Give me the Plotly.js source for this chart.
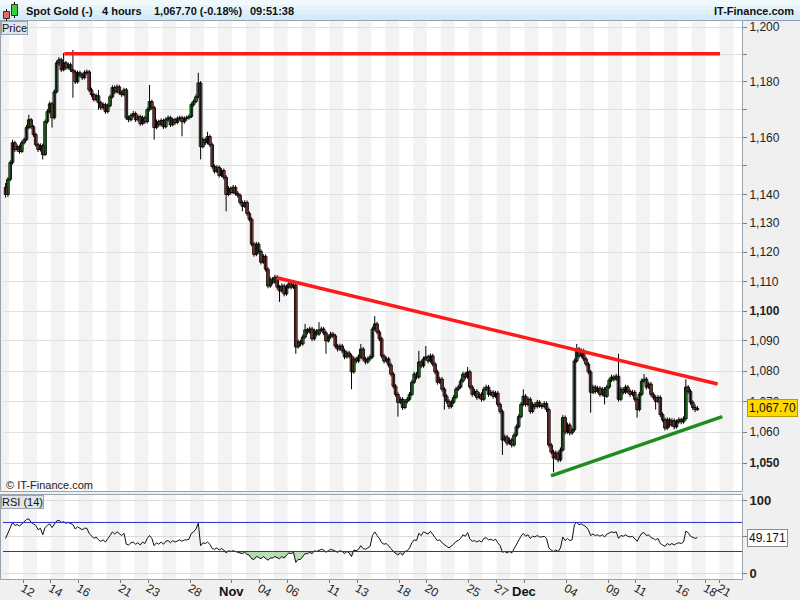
<!DOCTYPE html>
<html><head><meta charset="utf-8">
<script src="https://cdn.plot.ly/plotly-3.0.1.min.js"></script>
<style>html,body{margin:0;padding:0;background:#fff}#chart{width:800px;height:600px}</style>
</head><body><div id="chart"></div>
<script>
// ---- data (4-hour bars; bar 0 = first bar of Mon 12 Oct) ----
const firstBar = -8;
const opens = [1142.5,1140.0,1145.3,1151.2,1158.2,1155.8,1156.8,1155.1,1158.2,1159.3,1163.6,1166.4,1163.9,1161.1,1157.5,1155.8,1157.2,1154.0,1165.7,1169.3,1172.1,1167.1,1176.4,1186.9,1188.0,1184.4,1186.9,1185.1,1186.2,1184.4,1183.6,1180.0,1183.3,1182.5,1181.5,1183.3,1183.6,1177.1,1175.4,1173.6,1175.0,1172.5,1170.7,1171.8,1169.3,1171.4,1174.6,1177.9,1176.4,1178.2,1176.1,1175.4,1177.1,1167.1,1166.4,1167.9,1168.6,1166.4,1167.5,1165.0,1167.1,1165.7,1170.0,1172.9,1170.7,1163.6,1165.7,1164.6,1166.1,1163.9,1166.4,1167.1,1164.6,1166.4,1165.4,1166.8,1167.1,1165.7,1166.8,1167.1,1167.5,1171.8,1172.9,1174.6,1179.6,1156.8,1159.3,1158.2,1160.4,1157.5,1149.8,1148.1,1149.5,1146.7,1148.4,1146.0,1140.0,1142.1,1140.7,1142.5,1140.4,1139.7,1137.2,1135.9,1137.2,1133.4,1131.4,1122.8,1119.3,1122.8,1120.3,1116.6,1118.6,1114.2,1108.5,1110.8,1109.8,1111.5,1108.1,1106.8,1108.5,1105.8,1108.1,1109.2,1108.1,1108.8,1088.0,1089.7,1089.0,1091.3,1093.7,1093.0,1094.0,1090.7,1093.3,1092.3,1093.7,1094.0,1092.7,1090.0,1091.3,1092.3,1091.7,1088.3,1087.3,1088.3,1086.7,1084.7,1086.0,1085.0,1079.7,1084.0,1083.3,1084.7,1087.3,1084.0,1083.0,1084.0,1084.7,1094.0,1095.7,1093.0,1090.7,1085.0,1083.3,1084.0,1082.0,1079.0,1075.0,1072.3,1069.7,1070.7,1068.0,1070.0,1070.7,1072.3,1076.3,1079.0,1078.0,1083.0,1081.7,1084.0,1084.7,1083.3,1085.0,1082.3,1079.7,1076.3,1077.3,1074.0,1071.7,1070.0,1068.3,1069.7,1071.3,1074.0,1074.7,1076.7,1079.0,1078.0,1079.7,1074.7,1072.3,1073.3,1071.3,1072.3,1070.7,1074.0,1074.7,1072.3,1073.0,1071.7,1072.7,1069.0,1066.7,1057.4,1058.4,1056.4,1057.4,1055.8,1059.0,1061.7,1065.0,1069.0,1071.7,1069.0,1070.7,1066.7,1069.0,1068.3,1069.7,1068.7,1068.3,1069.3,1067.3,1055.8,1053.5,1051.6,1053.2,1051.0,1054.2,1064.7,1060.0,1062.3,1059.7,1060.7,1083.3,1087.3,1085.0,1086.7,1084.0,1082.3,1079.7,1073.0,1074.7,1073.3,1074.3,1072.3,1074.0,1071.7,1074.7,1077.0,1078.0,1077.3,1078.3,1070.7,1074.0,1073.0,1074.7,1073.3,1072.3,1073.0,1070.7,1067.3,1072.3,1076.7,1077.3,1074.7,1075.7,1072.3,1071.3,1070.0,1071.3,1065.7,1064.0,1061.3,1064.0,1062.3,1063.7,1061.7,1063.3,1064.0,1063.3,1064.3,1074.7,1073.3,1069.7,1068.0,1067.3];
const highs = [1144.0,1146.1,1152.0,1159.3,1158.9,1157.6,1157.5,1159.0,1160.1,1164.5,1168.2,1167.0,1164.5,1161.8,1158.2,1158.0,1157.9,1166.5,1170.2,1173.0,1172.8,1177.3,1187.8,1189.0,1188.7,1190.5,1187.6,1187.0,1187.0,1191.6,1184.3,1184.1,1184.0,1183.3,1184.2,1184.5,1184.3,1177.9,1176.1,1175.8,1177.1,1173.2,1172.6,1172.5,1172.2,1175.4,1178.8,1178.7,1179.1,1178.9,1176.9,1177.9,1177.8,1167.9,1168.7,1169.5,1169.3,1168.3,1168.2,1167.9,1167.8,1170.8,1178.9,1173.6,1171.4,1166.5,1166.4,1166.9,1166.8,1167.2,1167.9,1167.8,1167.2,1167.1,1167.6,1167.9,1167.8,1167.6,1167.9,1168.3,1172.6,1173.7,1175.5,1183.3,1180.3,1160.1,1160.0,1162.1,1161.1,1158.2,1150.5,1150.3,1150.2,1149.2,1149.1,1146.7,1142.9,1142.8,1143.3,1143.2,1141.2,1140.4,1137.9,1138.0,1137.9,1134.1,1132.1,1123.5,1123.6,1123.5,1121.0,1119.4,1119.3,1114.9,1111.6,1111.5,1112.3,1112.2,1108.8,1109.3,1109.2,1108.9,1110.0,1109.9,1109.6,1109.5,1090.5,1090.4,1092.1,1095.7,1094.4,1094.8,1094.7,1094.1,1094.0,1096.3,1094.8,1094.7,1093.4,1092.1,1093.1,1093.0,1092.4,1089.0,1089.1,1089.0,1087.4,1086.8,1086.7,1085.7,1084.8,1084.7,1085.5,1089.0,1088.0,1084.7,1084.8,1085.5,1094.8,1098.3,1096.4,1093.7,1091.4,1085.7,1084.8,1084.7,1082.7,1079.7,1075.7,1073.0,1071.5,1071.4,1070.8,1071.5,1073.1,1077.1,1079.8,1079.7,1086.7,1083.7,1084.8,1088.3,1085.4,1085.8,1085.7,1083.0,1080.4,1078.1,1078.0,1074.7,1072.4,1070.7,1070.5,1072.1,1074.8,1075.5,1077.5,1079.8,1079.7,1081.3,1080.4,1075.4,1074.1,1074.0,1073.1,1073.0,1074.8,1075.5,1075.4,1073.8,1073.7,1073.5,1073.4,1069.7,1067.4,1059.2,1059.1,1058.2,1058.1,1059.8,1062.5,1065.8,1069.8,1074.0,1072.4,1071.5,1071.4,1069.8,1069.7,1070.5,1070.4,1069.4,1070.1,1070.0,1068.0,1056.5,1054.2,1054.0,1053.9,1055.0,1065.5,1065.4,1063.1,1063.0,1061.5,1084.1,1089.0,1088.0,1087.5,1087.4,1084.7,1083.0,1080.4,1075.5,1075.4,1075.1,1075.0,1074.8,1074.7,1075.5,1077.8,1078.8,1078.7,1079.1,1085.7,1074.8,1074.7,1075.5,1075.4,1074.0,1073.8,1073.7,1071.4,1073.1,1077.5,1079.0,1078.0,1076.5,1076.4,1073.0,1072.0,1072.1,1072.0,1066.4,1064.7,1064.8,1064.7,1064.5,1064.4,1064.1,1064.8,1064.7,1065.1,1077.3,1075.4,1074.0,1070.4,1069.0,1068.5];
const lows = [1138.9,1139.2,1144.6,1150.5,1154.9,1155.0,1154.3,1154.6,1157.6,1158.8,1163.0,1163.1,1160.3,1156.8,1154.9,1155.1,1152.3,1153.5,1165.0,1168.6,1163.6,1166.5,1175.8,1185.8,1183.6,1183.8,1184.3,1184.5,1183.6,1174.3,1179.2,1179.4,1181.7,1180.7,1180.9,1182.6,1176.3,1174.6,1172.9,1172.9,1170.0,1169.9,1170.0,1168.5,1168.7,1170.8,1174.0,1175.6,1175.8,1175.3,1174.6,1174.8,1166.3,1165.5,1165.8,1167.2,1165.6,1165.8,1164.2,1164.4,1164.9,1165.1,1169.4,1169.9,1159.3,1163.0,1163.8,1164.0,1163.1,1163.3,1165.7,1163.8,1164.0,1164.6,1164.8,1166.0,1160.5,1165.0,1166.0,1166.4,1167.0,1171.1,1172.3,1174.0,1152.3,1156.2,1157.4,1157.6,1156.7,1149.0,1147.3,1147.5,1145.9,1146.1,1145.2,1134.1,1139.4,1139.9,1140.1,1139.6,1138.9,1136.4,1134.1,1135.3,1132.6,1130.6,1122.0,1118.5,1118.7,1119.5,1115.8,1116.0,1113.4,1107.7,1107.9,1109.0,1109.2,1107.3,1103.1,1106.2,1105.0,1105.2,1107.5,1107.3,1107.5,1085.7,1087.4,1088.2,1088.4,1090.7,1092.2,1092.4,1089.9,1090.1,1091.5,1091.7,1093.0,1091.9,1085.7,1089.4,1090.7,1090.9,1087.5,1086.5,1086.7,1085.9,1083.9,1084.1,1084.2,1074.0,1079.1,1082.5,1082.7,1084.1,1083.2,1082.2,1082.4,1083.4,1084.1,1093.4,1092.2,1089.9,1084.2,1082.5,1082.7,1081.2,1078.2,1074.2,1071.5,1065.0,1069.1,1067.2,1067.4,1069.3,1070.1,1071.7,1075.7,1077.2,1077.4,1080.9,1081.1,1083.4,1082.5,1082.7,1081.5,1078.9,1075.5,1075.7,1073.2,1067.3,1069.2,1067.5,1067.7,1069.1,1070.7,1073.4,1074.1,1076.1,1077.2,1077.4,1073.9,1071.5,1071.7,1070.5,1070.7,1069.9,1070.1,1073.4,1071.5,1071.7,1070.9,1071.1,1068.2,1065.9,1052.6,1056.8,1055.6,1055.8,1055.0,1055.2,1058.4,1061.1,1064.4,1068.4,1068.2,1068.4,1065.9,1066.1,1067.5,1067.7,1067.9,1067.5,1067.7,1066.5,1055.0,1052.7,1047.0,1051.0,1050.2,1050.4,1053.6,1059.2,1059.4,1058.9,1059.1,1060.1,1082.7,1084.2,1084.4,1083.2,1081.5,1078.9,1066.3,1072.4,1072.5,1072.7,1071.5,1071.7,1069.0,1071.1,1074.1,1076.4,1076.5,1076.7,1069.9,1070.1,1072.2,1072.4,1072.5,1071.5,1071.7,1069.9,1064.7,1066.7,1071.7,1076.1,1073.9,1074.1,1071.5,1070.5,1067.3,1069.4,1064.9,1063.2,1060.5,1060.7,1061.5,1061.7,1060.9,1061.1,1062.7,1062.5,1062.7,1063.7,1072.5,1068.9,1067.2,1066.5,1066.9];
const closes = [1140.0,1145.3,1151.2,1158.2,1155.8,1156.8,1155.1,1158.2,1159.3,1163.6,1166.4,1163.9,1161.1,1157.5,1155.8,1157.2,1154.0,1165.7,1169.3,1172.1,1167.1,1176.4,1186.9,1188.0,1184.4,1186.9,1185.1,1186.2,1184.4,1183.6,1180.0,1183.3,1182.5,1181.5,1183.3,1183.6,1177.1,1175.4,1173.6,1175.0,1172.5,1170.7,1171.8,1169.3,1171.4,1174.6,1177.9,1176.4,1178.2,1176.1,1175.4,1177.1,1167.1,1166.4,1167.9,1168.6,1166.4,1167.5,1165.0,1167.1,1165.7,1170.0,1172.9,1170.7,1163.6,1165.7,1164.6,1166.1,1163.9,1166.4,1167.1,1164.6,1166.4,1165.4,1166.8,1167.1,1165.7,1166.8,1167.1,1167.5,1171.8,1172.9,1174.6,1179.6,1156.8,1159.3,1158.2,1160.4,1157.5,1149.8,1148.1,1149.5,1146.7,1148.4,1146.0,1140.0,1142.1,1140.7,1142.5,1140.4,1139.7,1137.2,1135.9,1137.2,1133.4,1131.4,1122.8,1119.3,1122.8,1120.3,1116.6,1118.6,1114.2,1108.5,1110.8,1109.8,1111.5,1108.1,1106.8,1108.5,1105.8,1108.1,1109.2,1108.1,1108.8,1088.0,1089.7,1089.0,1091.3,1093.7,1093.0,1094.0,1090.7,1093.3,1092.3,1093.7,1094.0,1092.7,1090.0,1091.3,1092.3,1091.7,1088.3,1087.3,1088.3,1086.7,1084.7,1086.0,1085.0,1079.7,1084.0,1083.3,1084.7,1087.3,1084.0,1083.0,1084.0,1084.7,1094.0,1095.7,1093.0,1090.7,1085.0,1083.3,1084.0,1082.0,1079.0,1075.0,1072.3,1069.7,1070.7,1068.0,1070.0,1070.7,1072.3,1076.3,1079.0,1078.0,1083.0,1081.7,1084.0,1084.7,1083.3,1085.0,1082.3,1079.7,1076.3,1077.3,1074.0,1071.7,1070.0,1068.3,1069.7,1071.3,1074.0,1074.7,1076.7,1079.0,1078.0,1079.7,1074.7,1072.3,1073.3,1071.3,1072.3,1070.7,1074.0,1074.7,1072.3,1073.0,1071.7,1072.7,1069.0,1066.7,1057.4,1058.4,1056.4,1057.4,1055.8,1059.0,1061.7,1065.0,1069.0,1071.7,1069.0,1070.7,1066.7,1069.0,1068.3,1069.7,1068.7,1068.3,1069.3,1067.3,1055.8,1053.5,1051.6,1053.2,1051.0,1054.2,1064.7,1060.0,1062.3,1059.7,1060.7,1083.3,1087.3,1085.0,1086.7,1084.0,1082.3,1079.7,1073.0,1074.7,1073.3,1074.3,1072.3,1074.0,1071.7,1074.7,1077.0,1078.0,1077.3,1078.3,1070.7,1074.0,1073.0,1074.7,1073.3,1072.3,1073.0,1070.7,1067.3,1072.3,1076.7,1077.3,1074.7,1075.7,1072.3,1071.3,1070.0,1071.3,1065.7,1064.0,1061.3,1064.0,1062.3,1063.7,1061.7,1063.3,1064.0,1063.3,1064.3,1074.7,1073.3,1069.7,1068.0,1067.3,1067.7];
const rsi14 = [48,55,62,70,66,67,65,68,70,74,75,70,68,66,60,62,53,63,66,68,63,67,72,73,70,71,69,70,68,67,61,64,62,60,62,62,55,52,48,50,46,44,46,43,47,52,57,54,57,54,52,55,40,39,42,43,40,42,39,43,41,48,52,48,38,42,40,43,40,44,45,42,45,43,45,46,44,46,46,47,55,57,61,69,38,42,41,43,40,34,33,35,32,34,32,28,31,30,31,30,29,28,27,29,26,25,20,19,23,22,20,23,21,18,21,21,23,21,20,23,21,25,28,27,29,15,19,19,23,27,27,29,27,31,30,32,33,32,29,31,33,32,30,29,31,30,27,30,28,23,32,31,33,38,34,33,35,37,52,57,52,48,42,40,41,38,34,30,27,25,28,25,30,31,35,42,46,45,55,52,57,56,54,58,53,49,45,46,42,39,37,35,37,40,44,45,48,53,51,56,47,44,45,43,45,43,48,49,46,47,45,47,42,38,29,30,28,30,28,34,39,45,51,55,51,53,48,51,50,52,50,50,51,48,35,32,30,32,30,35,50,45,48,45,46,67,70,67,68,66,64,60,52,54,52,53,51,53,50,54,56,57,56,57,48,52,51,53,51,50,51,48,44,50,55,56,52,53,49,48,46,48,41,39,37,41,39,41,39,41,42,41,43,58,56,51,49,48,49.171];

// trading-day ticks (day index from Mon 12 Oct)
const dayLabels = ["12","14","16","21","23","28","Nov","04","06","11","13","18","20","25","27","Dec","04","09","11","16","18","21"];
const dayIndex  = [0,2,4,7,9,12,15,17,19,22,24,27,29,32,34,36,39,42,44,47,49,50];
const monthLabels = ["Nov","Dec"];
const priceTicks = [1050,1060,1070,1080,1090,1100,1110,1120,1130,1140,1150,1160,1170,1180,1190,1200];
const priceLabels = ["<b>1,050</b>","1,060","1,070","1,080","1,090","<b>1,100</b>","1,110","1,120","1,130","1,140","","1,160","","1,180","","1,200"];
const rsiTicks = [0,50,100];
const rsiLabels = ["<b>0</b>","","<b>100</b>"];
const rsiUpper = 70, rsiLower = 30;
const lastPrice = 1067.70, lastPriceText = "1,067.70";
const lastRsi = 49.171;
// trend lines (bar position, price)
const resistX = [17.3, 299.7],  resistY = [1190.2, 1190.2];
const downX   = [108.8, 298.7], downY   = [1111.3, 1075.7];
const upX     = [226.9, 300.7], upY     = [1045.9, 1065.0];

// ---- build ----
const xs = closes.map((_, k) => firstBar + k);
const L = 3, T = 21, PW = 739, PH = 558;
const px = x => (x - L) / PW;
const py = y => (T + PH - y) / PH;
const font = "Liberation Sans, Arial, sans-serif";

const up = { x: [], base: [], y: [] }, dn = { x: [], base: [], y: [] };
const wx = [], wy = [];
xs.forEach((x, k) => {
  const o = opens[k], c = closes[k];
  const g = c >= o ? up : dn;
  g.x.push(x); g.base.push(Math.min(o, c)); g.y.push(Math.max(Math.abs(c - o), 0.15));
  wx.push(x, x, null); wy.push(lows[k], highs[k], null);
});
// oversold areas: one closed polygon per run of RSI below 30
const segX = [], segY = [];
for (let k = 0; k < rsi14.length;) {
  if (rsi14[k] >= rsiLower) { k++; continue; }
  const s = k;
  while (k < rsi14.length && rsi14[k] < rsiLower) k++;
  const e = k - 1;
  const xa = s > 0 ? xs[s - 1] + (rsiLower - rsi14[s - 1]) / (rsi14[s] - rsi14[s - 1]) : xs[s];
  const xb = e < rsi14.length - 1 ? xs[e] + (rsiLower - rsi14[e]) / (rsi14[e + 1] - rsi14[e]) : xs[e];
  segX.push(xa); segY.push(rsiLower);
  for (let j = s; j <= e; j++) { segX.push(xs[j]); segY.push(rsi14[j]); }
  segX.push(xb, xa, null); segY.push(rsiLower, rsiLower, null);
}

const traces = [
  { type: 'scatter', mode: 'lines', x: wx, y: wy, xaxis: 'x', yaxis: 'y', connectgaps: false,
    line: { color: '#000', width: 1 }, hoverinfo: 'skip' },
  { type: 'bar', x: up.x, y: up.y, base: up.base, width: 1.15, xaxis: 'x', yaxis: 'y',
    marker: { color: '#3ccc3c', line: { color: '#000', width: 0.9 } }, hoverinfo: 'skip' },
  { type: 'bar', x: dn.x, y: dn.y, base: dn.base, width: 1.15, xaxis: 'x', yaxis: 'y',
    marker: { color: '#e86a6a', line: { color: '#000', width: 0.9 } }, hoverinfo: 'skip' },
  { type: 'scatter', mode: 'lines', x: resistX, y: resistY, xaxis: 'x', yaxis: 'y',
    line: { color: '#ff1a1a', width: 3.5 }, hoverinfo: 'skip' },
  { type: 'scatter', mode: 'lines', x: downX, y: downY, xaxis: 'x', yaxis: 'y',
    line: { color: '#ff1a1a', width: 3.5 }, hoverinfo: 'skip' },
  { type: 'scatter', mode: 'lines', x: upX, y: upY, xaxis: 'x', yaxis: 'y',
    line: { color: '#1e8c1e', width: 3.5 }, hoverinfo: 'skip' },
  { type: 'scatter', mode: 'lines', x: segX, y: segY, xaxis: 'x', yaxis: 'y2', connectgaps: false,
    fill: 'toself', fillcolor: 'rgba(120,190,110,0.5)', line: { width: 0.5, color: 'rgba(120,190,110,0.5)' }, hoverinfo: 'skip' },
  { type: 'scatter', mode: 'lines', x: xs, y: rsi14, xaxis: 'x', yaxis: 'y2',
    line: { color: '#111', width: 1 }, hoverinfo: 'skip' }
];

const shapes = [];
// alternating day bands
for (let d = -2; d <= 52; d++) {
  if (d % 2 !== 0) continue;
  ['y domain', 'y2 domain'].forEach(yr => shapes.push({
    type: 'rect', layer: 'below', xref: 'x', yref: yr, x0: 6 * d - 0.5, x1: 6 * d + 5.5, y0: 0, y1: 1,
    fillcolor: '#f3f3f3', line: { width: 0 } }));
}
// RSI 70 / 30 level lines
[rsiUpper, rsiLower].forEach(v => shapes.push({ type: 'line', layer: 'above', xref: 'x domain', yref: 'y2',
  x0: 0, x1: 1, y0: v, y1: v, line: { color: '#2a2ad0', width: 1 } }));
// header gradient
const hdr = ['#f1f9fc', '#e7f4fa', '#ddeff8', '#d4eaf5'];
hdr.forEach((c, j) => shapes.push({ type: 'rect', xref: 'paper', yref: 'paper', layer: 'below',
  x0: px(0), x1: px(800), y0: py(j * 5 + 5), y1: py(j * 5), fillcolor: c, line: { width: 0 } }));
shapes.push({ type: 'line', xref: 'paper', yref: 'paper', x0: px(0), x1: px(800), y0: py(20.5), y1: py(20.5), line: { color: '#93a0ad', width: 1 } });
// panel borders
shapes.push({ type: 'rect', xref: 'paper', yref: 'paper', x0: px(0.5), x1: px(742.5), y0: py(491.5), y1: py(20.5), line: { color: '#98a4b0', width: 1 } });
shapes.push({ type: 'rect', xref: 'paper', yref: 'paper', x0: px(0.5), x1: px(742.5), y0: py(579.5), y1: py(494.5), line: { color: '#98a4b0', width: 1 } });
// header icon (two small candles)
shapes.push({ type: 'line', xref: 'paper', yref: 'paper', x0: px(6.5), x1: px(6.5), y0: py(21), y1: py(9), line: { color: '#000', width: 1 } });
shapes.push({ type: 'rect', xref: 'paper', yref: 'paper', x0: px(3.5), x1: px(9.5), y0: py(18.5), y1: py(11.5), fillcolor: '#e86a6a', line: { color: '#333', width: 1 } });
shapes.push({ type: 'line', xref: 'paper', yref: 'paper', x0: px(14.5), x1: px(14.5), y0: py(18), y1: py(2), line: { color: '#000', width: 1 } });
shapes.push({ type: 'rect', xref: 'paper', yref: 'paper', x0: px(11.5), x1: px(17.5), y0: py(15.5), y1: py(4.5), fillcolor: '#3ccc3c', line: { color: '#333', width: 1 } });

const ann = (o) => Object.assign({ showarrow: false, font: { family: font, size: 12, color: '#111' } }, o);
const hfont = { family: font, size: 11, color: '#111' };
const annotations = [
  ann({ xref: 'paper', yref: 'paper', x: px(24), y: py(11), xanchor: 'left', yanchor: 'middle', text: '<b>Spot Gold (-)</b>', font: hfont }),
  ann({ xref: 'paper', yref: 'paper', x: px(100), y: py(11), xanchor: 'left', yanchor: 'middle', text: '<b>4 hours</b>', font: hfont }),
  ann({ xref: 'paper', yref: 'paper', x: px(152), y: py(11), xanchor: 'left', yanchor: 'middle', text: '<b>1,067.70 (-0.18%)</b>', font: hfont }),
  ann({ xref: 'paper', yref: 'paper', x: px(248), y: py(11), xanchor: 'left', yanchor: 'middle', text: '<b>09:51:38</b>', font: hfont }),
  ann({ xref: 'paper', yref: 'paper', x: px(796), y: py(11), xanchor: 'right', yanchor: 'middle', text: '<b>IT-Finance.com</b>', font: hfont }),
  ann({ xref: 'paper', yref: 'paper', x: px(1), y: py(21), xanchor: 'left', yanchor: 'top', text: 'Price',
        font: { family: font, size: 11, color: '#111' }, bgcolor: '#dfe5eb', bordercolor: '#9aa6b2', borderwidth: 1, borderpad: 0 }),
  ann({ xref: 'paper', yref: 'paper', x: px(1), y: py(495), xanchor: 'left', yanchor: 'top', text: 'RSI (14)',
        font: { family: font, size: 11, color: '#111' }, bgcolor: '#dfe5eb', bordercolor: '#9aa6b2', borderwidth: 1, borderpad: 0 }),
  ann({ xref: 'paper', yref: 'paper', x: px(4), y: py(485), xanchor: 'left', yanchor: 'middle', text: '© IT-Finance.com',
        font: { family: font, size: 11, color: '#222' } }),
  ann({ xref: 'paper', yref: 'y', x: px(747), y: Math.log10(lastPrice), xanchor: 'left', yanchor: 'middle', text: lastPriceText,
        bgcolor: '#ffd800', bordercolor: '#b89b00', borderwidth: 1, borderpad: 1 }),
  ann({ xref: 'paper', yref: 'y2', x: px(747), y: lastRsi, xanchor: 'left', yanchor: 'middle', text: String(lastRsi),
        bgcolor: '#ffffff', bordercolor: '#8c8c8c', borderwidth: 1, borderpad: 1 })
];
// month labels drawn bold at their tick positions
dayLabels.forEach((s, j) => {
  if (monthLabels.indexOf(s) < 0) return;
  annotations.push(ann({ xref: 'x', yref: 'paper', x: 6 * dayIndex[j] - 0.5, y: py(591), xanchor: 'center', yanchor: 'middle',
    text: '<b>' + s + '</b>', font: { family: font, size: 13, color: '#111' } }));
});

const layout = {
  width: 800, height: 600,
  margin: { l: L, r: 800 - L - PW, t: T, b: 600 - T - PH, pad: 0 },
  paper_bgcolor: '#f0f0f0', plot_bgcolor: '#ffffff',
  showlegend: false, barmode: 'overlay', hovermode: false,
  font: { family: font, size: 12, color: '#222' },
  xaxis: {
    domain: [0, 1], anchor: 'y2', range: [-9.114, 309.19],
    tickmode: 'array', tickvals: dayIndex.map(d => 6 * d - 0.5),
    ticktext: dayLabels.map(s => monthLabels.indexOf(s) >= 0 ? ' ' : s),
    ticks: 'outside', ticklen: 3, tickcolor: '#7a7a7a', ticklabelstandoff: -6,
    showgrid: false, zeroline: false, showline: false,
    tickfont: { family: font, size: 12, color: '#222' }, fixedrange: true
  },
  yaxis: {
    domain: [py(491), 1], anchor: 'x', side: 'right', type: 'log',
    range: [3.017466, 3.079979], tickmode: 'array', tickvals: priceTicks, ticktext: priceLabels,
    ticks: 'outside', ticklen: 4, tickcolor: '#7a7a7a', gridcolor: '#e0e0e0', gridwidth: 1,
    zeroline: false, showline: false, tickfont: { family: font, size: 12, color: '#222' }, fixedrange: true
  },
  yaxis2: {
    domain: [0, py(494)], anchor: 'x', side: 'right', range: [-7.9, 109.2],
    tickmode: 'array', tickvals: rsiTicks, ticktext: rsiLabels,
    ticks: 'outside', ticklen: 4, tickcolor: '#7a7a7a', gridcolor: '#dcdcdc',
    zeroline: false, showline: false, tickfont: { family: font, size: 13, color: '#222' }, fixedrange: true
  },
  shapes: shapes, annotations: annotations
};

Plotly.newPlot('chart', traces, layout, { staticPlot: true, displayModeBar: false });
</script>
</body></html>
